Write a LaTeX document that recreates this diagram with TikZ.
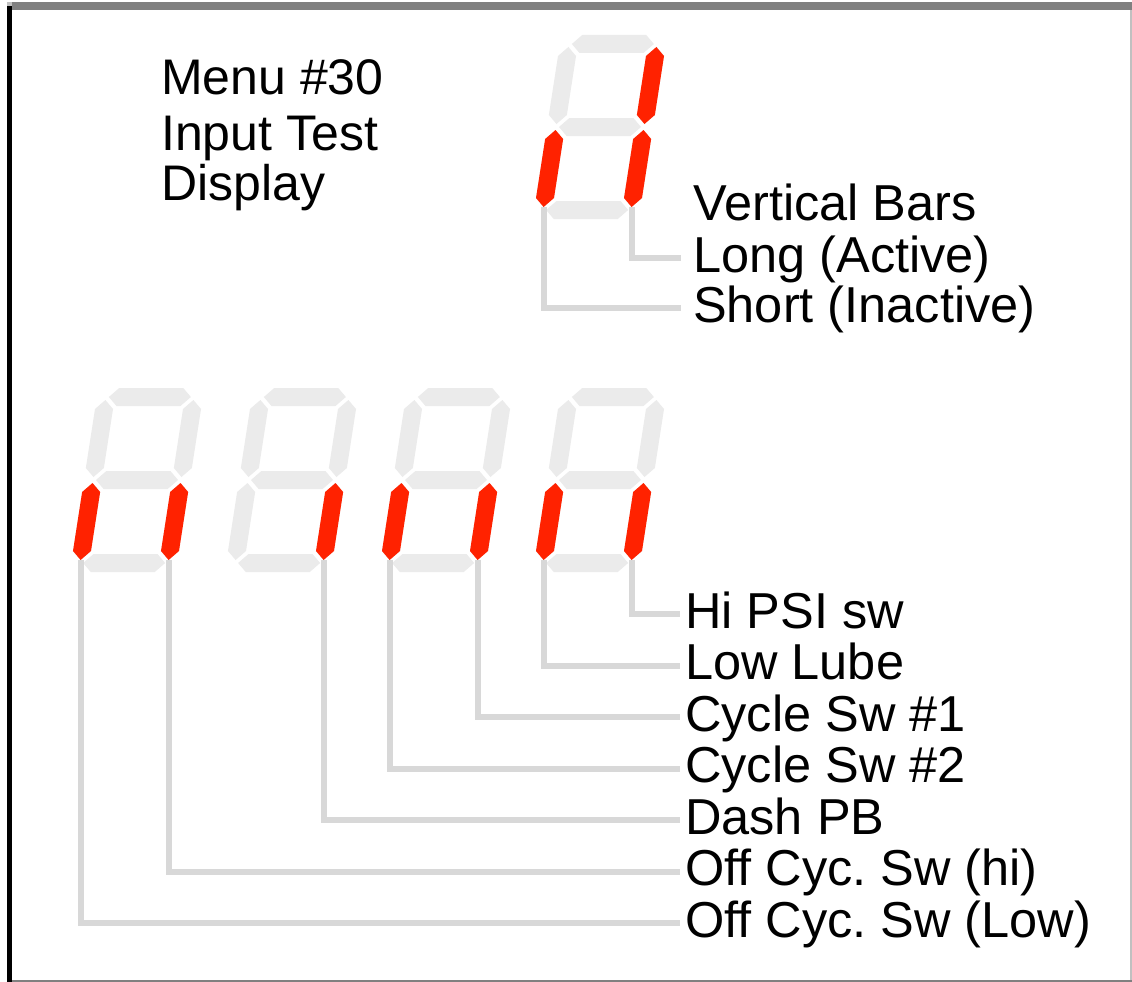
\documentclass[tikz,border=0pt]{standalone}
\usepackage{fontspec}
\setmainfont{Liberation Sans}
\frenchspacing
\definecolor{segoff}{RGB}{235,235,235}
\definecolor{segon}{RGB}{255,34,0}
\definecolor{leadgray}{RGB}{216,216,216}
\definecolor{framegray}{RGB}{128,128,128}
\definecolor{edgegray}{RGB}{192,192,192}
\newcommand\segH[4]{\fill[#4] (#1,#3) -- (#1+9,#3-9) -- (#2-9,#3-9) -- (#2,#3) -- (#2-9,#3+9) -- (#1+9,#3+9) -- cycle;}
\newcommand\segV[4]{\fill[#4] (#1,#2) -- (#1+9,#2+9) -- (#1+9,#3-9) -- (#1,#3) -- (#1-9,#3-9) -- (#1-9,#2+9) -- cycle;}
\newcommand\sega[1]{\segH{-41}{41}{-83}{#1}}
\newcommand\segg[1]{\segH{-41}{41}{0}{#1}}
\newcommand\segd[1]{\segH{-41}{41}{83}{#1}}
\newcommand\segf[1]{\segV{-44}{-80}{-3}{#1}}
\newcommand\segb[1]{\segV{44}{-80}{-3}{#1}}
\newcommand\sege[1]{\segV{-44}{3}{80}{#1}}
\newcommand\segc[1]{\segV{44}{3}{80}{#1}}
\newcommand\digitat[4]{%
  \begin{scope}[shift={(#1,#2)}]
  \begin{scope}[xslant=0.155]
    \foreach \s in {a,b,c,d,e,f,g}{\csname seg\s\endcsname{segoff}}
    \foreach \s in {#4}{\csname seg\s\endcsname{segon}}
    \coordinate (#3e) at (-44,80);
    \coordinate (#3c) at (44,80);
  \end{scope}
  \end{scope}}
\tikzset{
  lbl/.style={anchor=base west, inner sep=0pt, font=\fontsize{50.5}{51}\selectfont\frenchspacing},
  ttl/.style={anchor=base west, inner sep=0pt, font=\fontsize{50}{51}\selectfont\frenchspacing},
  leader/.style={draw=leadgray, line width=6pt}
}
\begin{document}
\begin{tikzpicture}[x=1pt,y=-1pt]
\useasboundingbox (0,0) rectangle (1132,982);
\fill[white] (0,0) rectangle (1132,982);
% frame
\fill[framegray] (12,2) rectangle (1132,10);
\fill[edgegray] (7,2) rectangle (12,6);
\fill[black] (7,6) rectangle (12,982);
\fill[framegray] (12,980) rectangle (1132,982);
\fill[edgegray] (1130,10) rectangle (1132,980);
% title
\node[ttl] (t1) at (161,95) {Menu \#30};
\node[ttl] (t2) at (161,150) {Input Test};
\node[ttl] (t3) at (161,200) {Display};
% top legend labels
\node[lbl] (vbars) at (693,220) {Vertical Bars};
\node[lbl] (long) at (693,272) {Long (Active)};
\node[lbl] (short) at (693,322) {Short (Inactive)};
% bottom labels
\node[lbl] (hipsi) at (685,628) {Hi PSI sw};
\node[lbl] (lowlube) at (685,679.5) {Low Lube};
\node[lbl] (cyc1) at (685,731) {Cycle Sw \#1};
\node[lbl] (cyc2) at (685,782.5) {Cycle Sw \#2};
\node[lbl] (dash) at (685,834) {Dash PB};
\node[lbl] (offhi) at (685,885.5) {Off Cyc. Sw (hi)};
\node[lbl] (offlow) at (685,937) {Off Cyc. Sw (Low)};
% digits
\digitat{600}{127}{t}{b,c,e}
\digitat{137}{480}{da}{c,e}
\digitat{292}{480}{db}{c}
\digitat{446}{480}{dc}{c,e}
\digitat{600}{480}{dd}{c,e}
% leaders
\draw[leader] (tc) |- ([xshift=-12pt,yshift=14pt]long.base west);
\draw[leader] (te) |- ([xshift=-12pt,yshift=14pt]short.base west);
\draw[leader] (ddc) |- ([xshift=-5pt,yshift=14pt]hipsi.base west);
\draw[leader] (dde) |- ([xshift=-5pt,yshift=14pt]lowlube.base west);
\draw[leader] (dcc) |- ([xshift=-5pt,yshift=14pt]cyc1.base west);
\draw[leader] (dce) |- ([xshift=-5pt,yshift=14pt]cyc2.base west);
\draw[leader] (dbc) |- ([xshift=-5pt,yshift=14pt]dash.base west);
\draw[leader] (dac) |- ([xshift=-5pt,yshift=14pt]offhi.base west);
\draw[leader] (dae) |- ([xshift=-5pt,yshift=14pt]offlow.base west);
\end{tikzpicture}
\end{document}
